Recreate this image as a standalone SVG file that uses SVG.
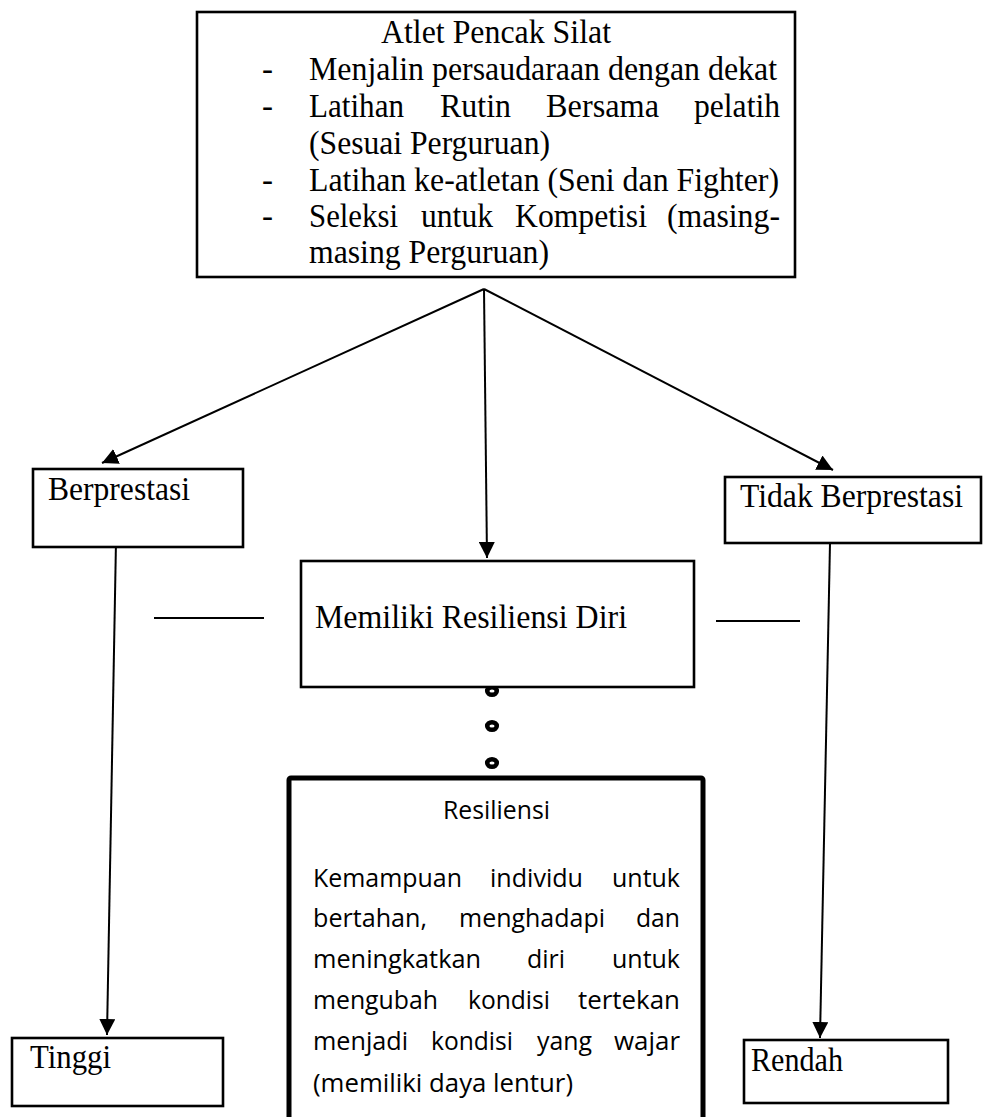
<svg xmlns="http://www.w3.org/2000/svg" width="983" height="1117" viewBox="0 0 983 1117">
<style>
.box{fill:#fff;stroke:#000;stroke-width:2.6}
.thick{fill:#fff;stroke:#000;stroke-width:5}
.t{font-family:"Liberation Serif","Times New Roman",serif;font-size:33px;fill:#000}
.c{font-family:"Open Sans","Noto Sans",sans-serif;font-size:26px;fill:#000}
.ln{stroke:#000;stroke-width:2;fill:none}
.ring{fill:#fff;stroke:#000;stroke-width:4.5}
</style>
<defs>
<marker id="ah" markerUnits="userSpaceOnUse" markerWidth="17" markerHeight="16" refX="16" refY="8" orient="auto">
<path d="M0,0 L16,8 L0,16 z" fill="#000"/>
</marker>
</defs>
<rect width="983" height="1117" fill="#fff"/>

<g id="connectors">
<line class="ln" x1="484" y1="289" x2="102" y2="463" marker-end="url(#ah)"/>
<line class="ln" x1="484" y1="289" x2="487" y2="558" marker-end="url(#ah)"/>
<line class="ln" x1="484" y1="289" x2="833" y2="470" marker-end="url(#ah)"/>
<line class="ln" x1="116" y1="541" x2="107" y2="1035" marker-end="url(#ah)"/>
<line class="ln" x1="830" y1="543" x2="820" y2="1038" marker-end="url(#ah)"/>
<line class="ln" x1="154" y1="618" x2="264" y2="618"/>
<line class="ln" x1="716" y1="621" x2="800" y2="621"/>
<ellipse class="ring" cx="492" cy="691" rx="4.8" ry="3.8"/>
<ellipse class="ring" cx="492" cy="726" rx="4.8" ry="3.8"/>
<ellipse class="ring" cx="492" cy="763" rx="4.8" ry="3.8"/>
</g>

<g id="atlet">
<rect class="box" x="197" y="12" width="598" height="265"/>
<text class="t" x="381" y="43" textLength="230" lengthAdjust="spacingAndGlyphs">Atlet Pencak Silat</text>
<text class="t" x="262" y="80">-</text>
<text class="t" x="309" y="80" textLength="468" lengthAdjust="spacingAndGlyphs">Menjalin persaudaraan dengan dekat</text>
<text class="t" x="262" y="117">-</text>
<text class="t" x="309" y="117" textLength="95" lengthAdjust="spacingAndGlyphs">Latihan</text>
<text class="t" x="440" y="117" textLength="71" lengthAdjust="spacingAndGlyphs">Rutin</text>
<text class="t" x="546" y="117" textLength="113" lengthAdjust="spacingAndGlyphs">Bersama</text>
<text class="t" x="694" y="117" textLength="86" lengthAdjust="spacingAndGlyphs">pelatih</text>
<text class="t" x="309" y="154" textLength="241" lengthAdjust="spacingAndGlyphs">(Sesuai Perguruan)</text>
<text class="t" x="262" y="191">-</text>
<text class="t" x="309" y="191" textLength="470" lengthAdjust="spacingAndGlyphs">Latihan ke-atletan (Seni dan Fighter)</text>
<text class="t" x="262" y="227">-</text>
<text class="t" x="309" y="227" textLength="89" lengthAdjust="spacingAndGlyphs">Seleksi</text>
<text class="t" x="421" y="227" textLength="72" lengthAdjust="spacingAndGlyphs">untuk</text>
<text class="t" x="515" y="227" textLength="132" lengthAdjust="spacingAndGlyphs">Kompetisi</text>
<text class="t" x="667" y="227" textLength="113" lengthAdjust="spacingAndGlyphs">(masing-</text>
<text class="t" x="309" y="263" textLength="240" lengthAdjust="spacingAndGlyphs">masing Perguruan)</text>
</g>

<g id="berprestasi">
<rect class="box" x="33" y="469" width="210" height="78"/>
<text class="t" x="48" y="500" textLength="142" lengthAdjust="spacingAndGlyphs">Berprestasi</text>
</g>

<g id="tidak-berprestasi">
<rect class="box" x="725" y="477" width="256" height="66"/>
<text class="t" x="740" y="507" textLength="223" lengthAdjust="spacingAndGlyphs">Tidak Berprestasi</text>
</g>

<g id="memiliki">
<rect class="box" x="301" y="561" width="393" height="126"/>
<text class="t" x="315" y="628" textLength="312" lengthAdjust="spacingAndGlyphs">Memiliki Resiliensi Diri</text>
</g>

<g id="resiliensi">
<rect class="thick" x="289" y="778" width="414" height="360" rx="2"/>
<text class="c" x="443" y="819" textLength="107" lengthAdjust="spacingAndGlyphs">Resiliensi</text>
<text class="c" x="313" y="887" textLength="149" lengthAdjust="spacingAndGlyphs">Kemampuan</text>
<text class="c" x="490" y="887" textLength="93" lengthAdjust="spacingAndGlyphs">individu</text>
<text class="c" x="612" y="887" textLength="68" lengthAdjust="spacingAndGlyphs">untuk</text>
<text class="c" x="313" y="927" textLength="114" lengthAdjust="spacingAndGlyphs">bertahan,</text>
<text class="c" x="459" y="927" textLength="146" lengthAdjust="spacingAndGlyphs">menghadapi</text>
<text class="c" x="636" y="927" textLength="44" lengthAdjust="spacingAndGlyphs">dan</text>
<text class="c" x="313" y="968" textLength="168" lengthAdjust="spacingAndGlyphs">meningkatkan</text>
<text class="c" x="527" y="968" textLength="38" lengthAdjust="spacingAndGlyphs">diri</text>
<text class="c" x="612" y="968" textLength="68" lengthAdjust="spacingAndGlyphs">untuk</text>
<text class="c" x="313" y="1009" textLength="125" lengthAdjust="spacingAndGlyphs">mengubah</text>
<text class="c" x="468" y="1009" textLength="82" lengthAdjust="spacingAndGlyphs">kondisi</text>
<text class="c" x="578" y="1009" textLength="102" lengthAdjust="spacingAndGlyphs">tertekan</text>
<text class="c" x="313" y="1050" textLength="95" lengthAdjust="spacingAndGlyphs">menjadi</text>
<text class="c" x="431" y="1050" textLength="82" lengthAdjust="spacingAndGlyphs">kondisi</text>
<text class="c" x="537" y="1050" textLength="55" lengthAdjust="spacingAndGlyphs">yang</text>
<text class="c" x="614" y="1050" textLength="66" lengthAdjust="spacingAndGlyphs">wajar</text>
<text class="c" x="313" y="1092" textLength="260" lengthAdjust="spacingAndGlyphs">(memiliki daya lentur)</text>
</g>

<g id="tinggi">
<rect class="box" x="12" y="1038" width="211" height="68"/>
<text class="t" x="30" y="1068" textLength="81" lengthAdjust="spacingAndGlyphs">Tinggi</text>
</g>

<g id="rendah">
<rect class="box" x="744" y="1040" width="204" height="63"/>
<text class="t" x="751" y="1071" textLength="92" lengthAdjust="spacingAndGlyphs">Rendah</text>
</g>
</svg>
